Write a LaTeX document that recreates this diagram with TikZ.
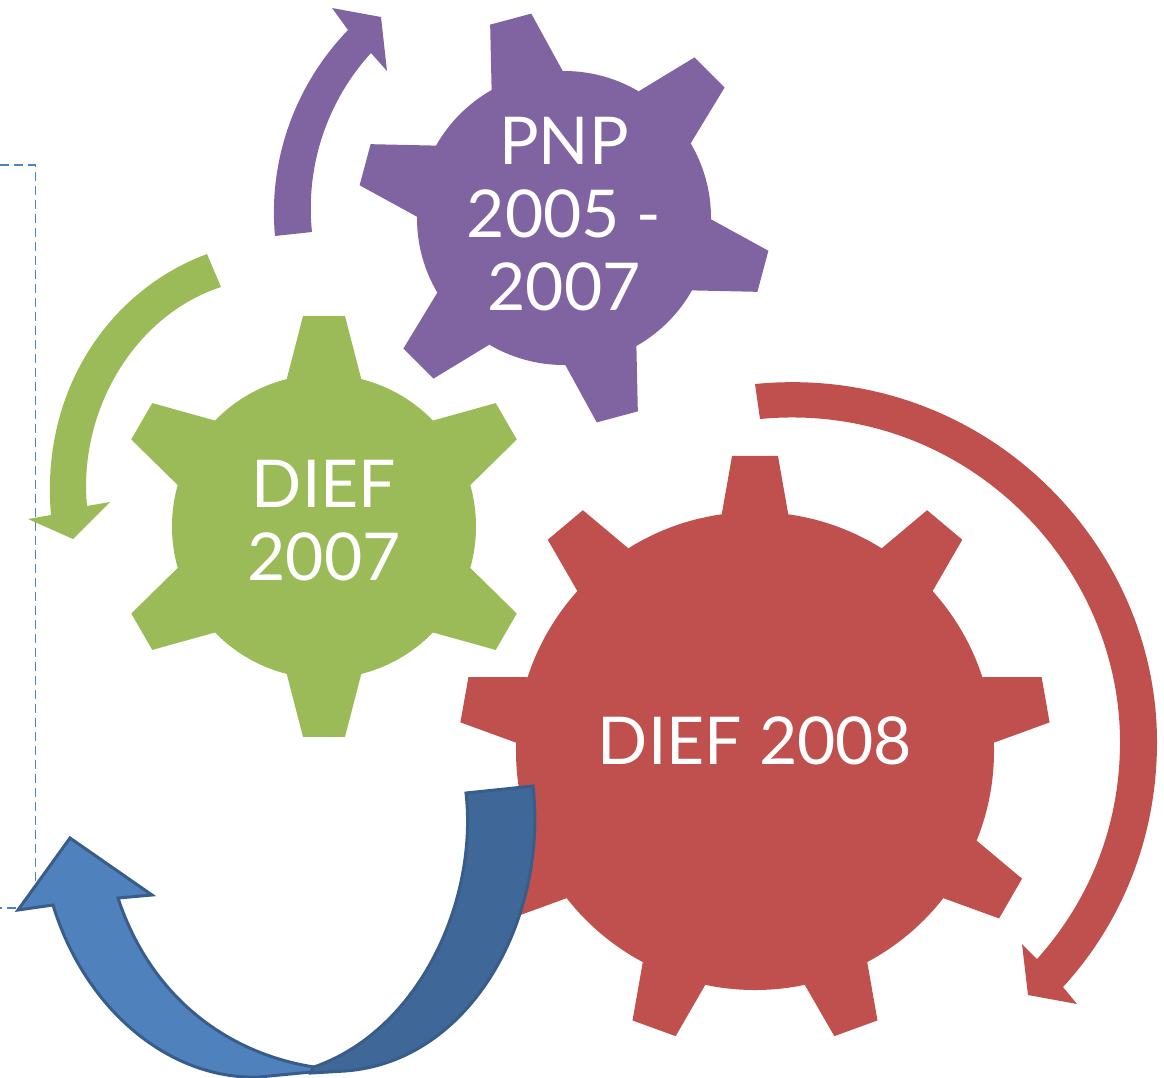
\documentclass[tikz,border=0pt]{standalone}
\usepackage{fontspec}
\setmainfont{Lato}
\definecolor{pnpc}{RGB}{128, 100, 162}
\definecolor{diefa}{RGB}{155, 187, 89}
\definecolor{diefb}{RGB}{192, 80, 77}
\definecolor{bluea}{RGB}{79, 129, 189}
\definecolor{blueb}{RGB}{63, 103, 151}
\definecolor{bluec}{RGB}{56, 93, 138}
\tikzset{gearlabel/.style={text=white, align=center, inner sep=0pt, scale=5.5, font=\fontsize{12}{13.3}\selectfont}}
\tikzset{bluearrow/.style={draw=bluec, line width=3pt, line join=miter}}
% centre, body radius, tip radius, half base angle, half tip angle, first angle, teeth, colour
\newcommand{\gearwheel}[8]{%
  \fill [#8] #1 circle (#2);
  \foreach \k in {1,...,#7} {
    \pgfmathsetmacro{\ang}{#6+360*\k/#7}
    \fill [#8, shift={#1}, rotate=\ang] (-#4:#2) -- (-#5:#3) -- (#5:#3) -- (#4:#2) -- cycle;
  }
}
\begin{document}
\begin{tikzpicture}[x=1pt, y=1pt]
\useasboundingbox (0,0) rectangle (1164,-1077);
% wheels
\gearwheel{(564,-218)}{147}{207}{14.5}{5.9}{45}{6}{pnpc}
\gearwheel{(324,-526.5)}{152}{211.5}{14.2}{5.7}{30}{6}{diefa}
\gearwheel{(755,-751)}{239}{296}{8}{4.45}{10}{9}{diefb}
% arrows round the wheels
\fill [pnpc] (275,-236) .. controls (268,-160) and (295,-85) .. (348,-30) -- (332,-8) -- (381,-17) -- (387,-71) -- (371,-53) .. controls (328,-100) and (305,-165) .. (312,-232) -- cycle;
\fill [diefa] (207,-254) .. controls (110,-290) and (40,-390) .. (51,-515) -- (28,-519) -- (73,-539) -- (110,-502) -- (87,-506) .. controls (78,-410) and (135,-315) .. (221,-287) -- cycle;
\fill [diefb] (755,-384) .. controls (980,-362) and (1157,-540) .. (1157,-742) .. controls (1157,-840) and (1120,-925) .. (1063,-987) -- (1077,-1004) -- (1028,-995) -- (1022,-944) -- (1037,-959) .. controls (1090,-900) and (1120,-825) .. (1120,-742) .. controls (1120,-560) and (960,-400) .. (760,-419) -- cycle;
\draw [bluea, line width=1.5pt, dash pattern=on 9pt off 5pt] (0,-165) -- (35.5,-165) -- (35.5,-908) -- (0,-908);
% big arrow
\draw [bluearrow, fill=bluea] (53,-905) .. controls (85,-1010) and (170,-1080) .. (259,-1077) -- (311,-1072) -- (314,-1067) .. controls (225,-1053) and (150,-995) .. (118,-898) -- (152,-895) -- (70,-838) -- (18,-910) -- cycle;
\draw [bluearrow, fill=blueb] (466,-793) .. controls (478,-900) and (420,-1030) .. (314,-1067) -- (311,-1073) -- (345,-1071) .. controls (470,-1062) and (548,-920) .. (533,-786) -- cycle;
% labels
\node (pnp) [gearlabel] at (564,-214) {PNP\\2005 -\\2007};
\node (dief07) [gearlabel] at (324,-521) {DIEF\\2007};
\node (dief08) [gearlabel] at (755,-741) {DIEF 2008};
\end{tikzpicture}
\end{document}
